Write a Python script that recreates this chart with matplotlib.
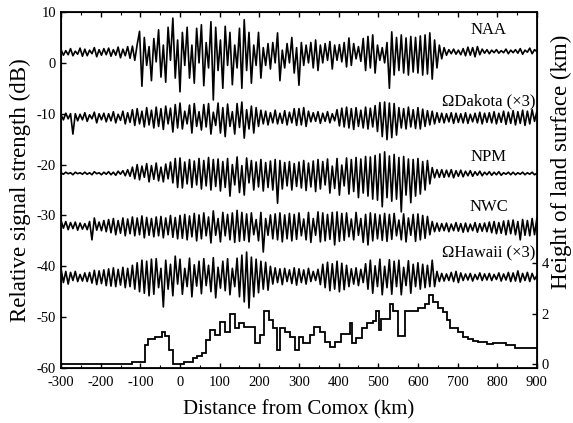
import numpy as np
import matplotlib
matplotlib.use("Agg")
import matplotlib.pyplot as plt

plt.rcParams['font.family'] = ['Liberation Serif', 'DejaVu Serif']
plt.rcParams['axes.unicode_minus'] = False

# distance grid of the read-off samples (km), one extremum every 6 km
distance = np.arange(-300, 901, 6)

naa = [
    2.6, 1.5, 2.4, 1.6, 2.8, 1.4, 2.3, 1.7, 2.9, 1.3,
    2.7, 1.4, 2.5, 1.8, 3.0, 1.2, 2.6, 1.5, 2.8, 1.6,
    2.9, 1.3, 2.6, 1.5, 3.1, 1.0, 2.7, 1.4, 3.2, 0.9,
    3.3, 0.5, 3.6, 6.2, -4.6, 5.0, -0.5, 3.2, -3.5, 4.8,
    0.2, 6.5, -2.8, 3.5, -3.8, 7.0, 0.5, 8.8, -3.0, 4.5,
    -5.7, 6.0, -0.5, 7.0, -3.0, 3.5, -4.0, 6.8, 0.0, 7.5,
    -4.5, 4.0, -1.0, 8.1, -7.3, 7.0, -1.5, 4.5, -5.0, 7.2,
    -0.5, 6.0, -4.3, 3.5, -1.0, 6.8, -5.0, 8.5, -1.5, 6.0,
    -4.0, 3.5, -0.5, 6.0, -3.0, 3.0, -0.5, 3.8, -1.2, 4.0,
    0.0, 5.9, -3.5, 2.5, -1.0, 3.8, 0.0, 5.0, -2.0, 3.0,
    -4.4, 4.0, -0.5, 3.5, 0.0, 4.0, -1.0, 4.5, -1.5, 3.5,
    0.0, 3.8, 0.5, 4.2, -1.2, 3.5, 0.5, 3.6, 0.2, 4.0,
    -0.8, 4.9, -0.5, 3.8, 0.8, 3.2, 0.3, 4.8, -1.5, 5.2,
    -1.0, 5.5, -2.0, 3.5, 0.5, 3.0, 0.0, 4.0, -5.0, 6.1,
    -2.4, 5.0, -1.5, 5.5, -2.0, 4.9, -2.4, 5.2, -1.8, 5.0,
    -2.0, 5.3, -2.4, 5.5, -2.2, 5.9, -3.2, 4.5, -1.0, 3.5,
    0.8, 3.0, 1.5, 2.6, 1.8, 2.7, 1.7, 2.5, 1.6, 2.8,
    1.4, 3.1, 1.5, 3.0, 1.2, 3.2, 1.6, 2.7, 1.9, 2.6,
    1.8, 2.5, 2.0, 2.6, 1.9, 2.4, 2.0, 2.7, 1.8, 2.5,
    2.0, 2.6, 1.9, 2.8, 1.7, 2.5, 2.1, 2.9, 1.8, 2.6,
    2.2,
]

dakota = [
    -10.2, -11.2, -9.9, -11.0, -10.0, -14.0, -10.0, -11.4, -10.1, -11.2,
    -9.8, -11.5, -10.2, -11.0, -9.7, -11.8, -10.0, -11.2, -9.9, -11.6,
    -10.0, -11.4, -9.6, -11.8, -10.1, -11.3, -9.5, -12.0, -9.8, -11.7,
    -9.2, -12.3, -9.0, -12.0, -9.5, -12.6, -8.8, -12.2, -9.3, -12.8,
    -8.7, -12.5, -9.0, -13.1, -8.5, -12.0, -8.9, -13.6, -8.2, -12.8,
    -7.9, -13.0, -9.5, -12.0, -8.3, -13.8, -8.0, -12.5, -9.6, -13.2,
    -8.2, -12.6, -8.0, -14.0, -9.7, -12.3, -7.9, -13.8, -8.8, -14.5,
    -8.1, -12.5, -9.6, -14.0, -8.0, -12.7, -7.7, -14.8, -9.2, -13.0,
    -8.5, -13.8, -8.8, -12.5, -9.3, -12.0, -9.5, -12.2, -9.8, -11.8,
    -9.3, -12.0, -9.9, -11.9, -9.4, -12.2, -9.7, -11.8, -9.0, -12.3,
    -9.0, -12.2, -8.8, -12.5, -9.5, -11.6, -9.8, -11.5, -9.6, -11.9,
    -9.9, -11.5, -9.6, -11.8, -10.0, -11.4, -9.2, -12.4, -8.9, -12.6,
    -8.7, -12.8, -9.0, -13.1, -8.8, -12.5, -9.3, -12.8, -8.7, -13.0,
    -8.9, -12.6, -8.4, -13.5, -7.8, -14.5, -7.7, -15.1, -7.9, -14.7,
    -8.0, -14.2, -8.8, -12.8, -9.0, -13.0, -8.7, -12.6, -9.2, -12.9,
    -8.8, -13.0, -9.1, -12.5, -9.4, -12.2, -9.5, -12.0, -9.8, -11.7,
    -9.9, -11.8, -10.0, -11.6, -9.8, -11.9, -9.9, -11.7, -10.0, -11.8,
    -9.8, -11.9, -10.1, -11.6, -9.9, -11.8, -9.7, -12.0, -9.9, -11.7,
    -9.8, -11.8, -9.6, -12.0, -9.9, -11.7, -9.5, -12.1, -9.7, -11.9,
    -9.4, -12.2, -9.6, -11.9, -9.3, -12.3, -9.5, -12.0, -9.2, -11.5,
    -9.5,
]

npm = [
    -21.6, -21.9, -21.5, -21.8, -21.6, -22.0, -21.5, -21.8, -21.6, -21.9,
    -21.5, -21.9, -21.6, -22.0, -21.4, -21.8, -21.6, -22.0, -21.5, -21.9,
    -21.4, -22.0, -21.5, -22.1, -21.3, -21.9, -21.2, -22.2, -21.0, -22.3,
    -20.5, -22.8, -20.0, -23.0, -20.3, -22.5, -19.8, -23.4, -20.2, -22.9,
    -19.7, -23.2, -20.5, -23.4, -19.9, -22.8, -19.5, -23.6, -18.8, -24.5,
    -18.7, -24.6, -19.5, -23.8, -19.0, -24.5, -19.3, -24.0, -18.8, -24.8,
    -19.2, -24.2, -18.6, -25.0, -19.0, -24.3, -18.9, -25.2, -19.4, -24.5,
    -18.8, -26.2, -20.0, -24.0, -18.5, -25.5, -20.2, -26.0, -18.7, -23.6,
    -19.2, -25.0, -19.5, -24.4, -19.0, -25.2, -19.6, -24.5, -19.3, -25.0,
    -19.0, -27.6, -19.2, -24.8, -19.6, -24.2, -19.4, -25.0, -19.8, -24.3,
    -19.5, -24.6, -19.2, -25.1, -19.7, -24.4, -19.3, -25.3, -19.0, -24.8,
    -19.4, -24.0, -18.9, -25.6, -20.3, -24.7, -18.8, -26.0, -20.1, -24.2,
    -18.7, -25.8, -19.0, -25.3, -18.6, -26.5, -18.9, -25.6, -18.4, -26.2,
    -18.5, -26.8, -18.2, -27.0, -17.9, -28.3, -17.5, -26.5, -18.3, -27.2,
    -18.0, -26.8, -18.6, -29.3, -18.4, -26.0, -18.9, -27.5, -19.0, -26.2,
    -18.8, -25.8, -19.4, -25.0, -19.2, -23.8, -20.6, -22.6, -21.0, -22.5,
    -21.0, -22.5, -21.1, -22.4, -21.0, -22.6, -21.2, -22.3, -21.1, -22.4,
    -21.3, -22.2, -21.2, -22.3, -21.4, -22.1, -21.3, -22.2, -21.5, -22.0,
    -21.4, -22.1, -21.5, -22.0, -21.4, -22.1, -21.6, -21.9, -21.5, -22.0,
    -21.5, -22.0, -21.6, -21.9, -21.5, -22.0, -21.6, -21.9, -21.5, -22.0,
    -21.7,
]

nwc = [
    -31.0, -32.5, -31.2, -32.8, -31.4, -32.6, -31.3, -32.9, -31.5, -32.7,
    -31.6, -32.8, -31.2, -34.8, -30.5, -32.9, -31.3, -33.0, -31.0, -33.2,
    -30.8, -33.4, -30.6, -33.8, -31.0, -33.5, -30.5, -34.0, -30.7, -33.6,
    -30.3, -34.0, -30.5, -33.8, -30.1, -34.4, -30.4, -33.9, -30.6, -34.2,
    -30.3, -34.0, -30.2, -34.4, -30.5, -33.8, -30.0, -34.3, -30.4, -34.6,
    -30.0, -34.5, -29.8, -34.8, -30.1, -34.2, -29.6, -35.0, -29.9, -34.6,
    -29.5, -34.0, -30.3, -35.4, -29.1, -33.9, -30.6, -35.2, -29.4, -34.0,
    -29.8, -34.8, -29.5, -35.3, -29.0, -35.1, -29.4, -34.9, -29.7, -35.2,
    -29.5, -33.8, -30.8, -35.0, -29.4, -37.2, -30.6, -33.9, -29.9, -34.6,
    -29.7, -34.8, -29.5, -35.2, -29.9, -34.6, -29.6, -35.0, -29.8, -34.7,
    -29.5, -34.0, -30.7, -34.8, -29.4, -35.3, -30.6, -33.9, -29.3, -35.2,
    -29.5, -35.0, -29.8, -34.7, -29.4, -35.8, -29.3, -35.1, -29.6, -34.9,
    -29.5, -34.2, -30.7, -34.8, -29.4, -33.9, -30.6, -35.3, -29.8, -35.8,
    -29.5, -35.0, -29.7, -34.6, -29.9, -34.9, -29.6, -35.1, -29.8, -34.7,
    -29.6, -34.0, -30.9, -34.8, -29.7, -35.2, -30.5, -33.9, -29.8, -35.1,
    -29.7, -34.8, -30.0, -34.5, -30.2, -33.8, -31.2, -33.2, -31.5, -33.1,
    -31.6, -33.0, -31.5, -33.2, -31.7, -33.0, -31.4, -33.1, -31.6, -33.3,
    -31.5, -33.2, -31.7, -33.0, -31.4, -33.3, -31.6, -33.1, -31.5, -33.2,
    -31.3, -33.4, -31.2, -33.6, -31.4, -33.5, -31.1, -33.8, -31.0, -33.6,
    -30.9, -33.8, -31.2, -34.8, -30.8, -33.9, -31.0, -34.0, -30.6, -33.8,
    -30.5,
]

hawaii = [
    -40.5, -43.2, -41.0, -43.5, -41.2, -42.8, -41.0, -43.0, -41.6, -42.9,
    -41.3, -43.0, -41.2, -43.3, -40.8, -43.6, -40.9, -43.4, -40.7, -43.8,
    -40.5, -43.9, -40.3, -44.0, -40.6, -43.7, -40.2, -44.2, -40.4, -44.0,
    -39.8, -44.5, -39.3, -45.0, -38.8, -45.3, -39.0, -45.8, -38.6, -45.5,
    -38.5, -44.2, -40.4, -48.0, -38.8, -44.5, -39.6, -45.8, -38.0, -43.5,
    -38.6, -45.5, -40.4, -44.0, -38.4, -46.0, -39.7, -43.9, -39.0, -45.4,
    -38.5, -43.8, -39.8, -45.0, -38.3, -46.2, -40.2, -44.3, -39.0, -44.8,
    -38.5, -45.6, -40.4, -44.0, -38.4, -46.0, -37.8, -47.0, -37.2, -48.2,
    -38.2, -46.0, -38.6, -45.2, -39.0, -44.5, -39.2, -44.7, -40.0, -43.5,
    -40.3, -43.2, -40.5, -43.6, -40.4, -43.0, -40.7, -43.4, -40.3, -43.7,
    -40.5, -43.2, -40.7, -43.5, -40.4, -43.0, -41.0, -42.8, -40.6, -43.6,
    -39.6, -44.2, -39.2, -44.8, -39.5, -44.5, -39.0, -45.0, -39.4, -44.6,
    -39.8, -44.0, -40.5, -43.5, -40.3, -43.8, -40.6, -43.2, -39.5, -44.5,
    -38.8, -45.3, -39.9, -44.0, -38.6, -45.6, -40.0, -44.2, -38.7, -45.5,
    -39.0, -44.0, -38.8, -45.6, -40.2, -43.8, -38.9, -45.3, -39.6, -44.0,
    -39.3, -44.5, -39.6, -44.2, -39.8, -44.0, -38.8, -44.0, -41.0, -43.0,
    -41.4, -42.9, -41.5, -42.8, -41.2, -43.0, -41.0, -43.2, -41.3, -42.8,
    -41.5, -42.7, -41.4, -42.9, -41.6, -42.6, -41.3, -42.8, -41.5, -42.7,
    -41.4, -42.8, -41.6, -42.6, -41.3, -42.9, -41.5, -42.7, -41.2, -43.0,
    -41.3, -42.9, -40.9, -43.1, -41.4, -42.8, -41.2, -43.0, -41.4, -42.6,
    -41.8,
]

# land surface height (km) as steps between edges (km)
terrain_edges = [-300, -122, -88, -80, -63, -46, -38, -27, -18, 9, 34, 43, 55,
                 66, 76, 89, 101, 114, 126, 139, 150, 162, 189, 202, 212, 224,
                 234, 244, 252, 265, 277, 290, 300, 311, 328, 339, 353, 365,
                 379, 391, 405, 429, 435, 445, 458, 471, 487, 494, 502, 508,
                 529, 537, 550, 567, 601, 617, 628, 638, 650, 663, 673, 681,
                 702, 714, 727, 739, 752, 773, 790, 823, 845, 900]
terrain_height = [0.0, 0.1, 0.76, 0.99, 1.1, 1.29, 1.12, 0.57, 0.0, 0.08, 0.24,
                  0.34, 0.44, 0.96, 1.36, 1.15, 1.69, 1.29, 1.98, 1.43, 1.65,
                  1.49, 0.83, 1.16, 2.11, 1.75, 1.43, 0.57, 1.45, 1.29, 1.1,
                  0.57, 1.1, 0.83, 1.16, 1.49, 1.29, 0.9, 0.7, 0.9, 1.19, 1.65,
                  0.86, 1.03, 1.45, 1.65, 1.7, 2.1, 1.36, 1.79, 2.38, 2.11,
                  1.13, 2.11, 2.24, 2.38, 2.72, 2.46, 2.24, 2.06, 1.75, 1.45,
                  1.29, 1.1, 1.0, 0.92, 0.87, 0.82, 0.83, 0.77, 0.66]

trace_labels = ["NAA", "\u03a9Dakota (\u00d73)", "NPM", "NWC", "\u03a9Hawaii (\u00d73)"]
label_levels = [6.5, -7.5, -18.5, -28.3, -37.4]

x_ticks = list(range(-300, 901, 100))
y_ticks = list(range(-60, 11, 10))
h_ticks = [0, 2, 4]

fig = plt.figure(figsize=(5.73, 4.23), dpi=100)
ax = fig.add_axes([0.1065, 0.13, 0.8305, 0.8416])

for series in (naa, dakota, npm, nwc, hawaii):
    ax.plot(distance, series, color='black', lw=1.2)

ax.set_xlim(-300, 900)
ax.set_ylim(-60, 10)
ax.set_xticks(x_ticks)
ax.set_xticks(list(range(-250, 900, 100)), minor=True)
ax.set_yticks(y_ticks)
ax.tick_params(axis='both', which='both', direction='in', labelsize=10.5,
               top=True, right=False)
ax.tick_params(axis='x', which='major', pad=6)
ax.tick_params(axis='both', which='major', length=3.5, width=1.0)
ax.tick_params(axis='both', which='minor', length=2, width=0.8)
for s in ax.spines.values():
    s.set_linewidth(1.3)

for txt, lvl in zip(trace_labels, label_levels):
    ax.text(778, lvl, txt, ha='center', va='center', fontsize=12)

ax.set_xlabel("Distance from Comox (km)", fontsize=15)
ax.xaxis.set_label_coords(0.5, -0.09)
ax.set_ylabel("Relative signal strength (dB)", fontsize=16.5)
ax.yaxis.set_label_coords(-0.064, 0.5)

ax2 = ax.twinx()
ax2.set_ylim(-0.14, 13.9)
ax2.stairs(terrain_height, terrain_edges, color='black', lw=1.3, baseline=None)
ax2.set_yticks(h_ticks)
ax2.tick_params(axis='y', direction='in', labelsize=10.5, length=3.5, width=1.0)
ax2.set_ylabel("Height of land surface (km)", fontsize=16.5)
ax2.yaxis.set_label_coords(1.03, 0.58)

fig.savefig("out.png", dpi=100)
